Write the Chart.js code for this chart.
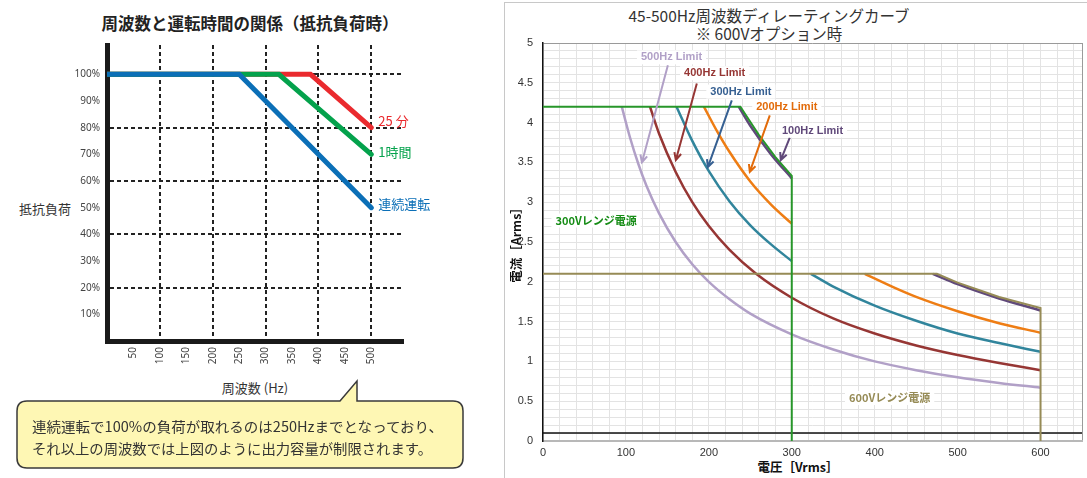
<!DOCTYPE html>
<html>
<head>
<meta charset="utf-8">
<script src="https://cdn.jsdelivr.net/npm/chart.js@4.4.1/dist/chart.umd.min.js"></script>
<style>
  body { margin: 0; width: 1087px; height: 478px; overflow: hidden; background: #fff; position: relative;
         font-family: "Noto Sans CJK JP", "Noto Sans", sans-serif; color: #333; }
  .abs { position: absolute; white-space: nowrap; }
  #leftTitle { left: 0; width: 500px; top: 12px; line-height: 22px; text-align: center; font-size: 16.5px; font-weight: bold; color: #222; }
  #leftYTitle { left: 19px; top: 200px; font-size: 13px; line-height: 18px; color: #333; }
  #leftXTitle { left: 155px; width: 200px; text-align: center; top: 379px; font-size: 13px; line-height: 18px; color: #333; }
  #leftChart { position: absolute; left: 0; top: 0; }
  #callout { position: absolute; left: 0; top: 370px; }
  #rightBox { position: absolute; left: 504px; top: 2px; width: 583px; height: 476px; border-left: 1px solid #c8c8c8; border-top: 1px solid #c8c8c8; }
  #rightChart { position: absolute; left: 505px; top: 3px; }
  #rightTitle { left: 569px; width: 400px; top: 6px; text-align: center; font-size: 15.5px; line-height: 18px; color: #333; }
  #rightXTitle { left: 698px; width: 200px; text-align: center; top: 458px; font-size: 12.5px; line-height: 18px; font-weight: bold; color: #111; }
</style>
</head>
<body>
<div id="rightBox"></div>
<div class="abs" id="leftTitle">周波数と運転時間の関係（抵抗負荷時）</div>
<div class="abs" id="leftYTitle">抵抗負荷</div>
<div class="abs" id="leftXTitle">周波数 (Hz)</div>
<canvas id="leftChart" width="480" height="400"></canvas>
<svg id="callout" width="480" height="108">
  <path d="M 27 31 L 340 31 L 357 11 L 357 31 L 453 31 Q 463 31 463 41 L 463 88 Q 463 98 453 98 L 27 98 Q 17 98 17 88 L 17 41 Q 17 31 27 31 Z"
        fill="#fef7b4" stroke="#3a3a3a" stroke-width="1.5"/>
  <text x="32" y="62" font-size="14" fill="#333" textLength="411" lengthAdjust="spacingAndGlyphs">連続運転で100%の負荷が取れるのは250Hzまでとなっており、</text>
  <text x="32" y="83.5" font-size="14" fill="#333" textLength="400" lengthAdjust="spacingAndGlyphs">それ以上の周波数では上図のように出力容量が制限されます。</text>
</svg>
<div class="abs" id="rightTitle">45-500Hz周波数ディレーティングカーブ<br>※ 600Vオプション時</div>
<div class="abs" id="rightXTitle">電圧［Vrms］</div>
<canvas id="rightChart" width="582" height="475"></canvas>

<script>
  // ---- left chart: frequency vs load ----
  var leftXTicks = [50, 100, 150, 200, 250, 300, 350, 400, 450, 500];
  var leftYTicks = [10, 20, 30, 40, 50, 60, 70, 80, 90, 100];

  var contFreq = [0, 250, 500];
  var contLoad = [100, 100, 50];
  var hourFreq = [0, 325, 500];
  var hourLoad = [100, 100, 70];
  var min25Freq = [0, 385, 500];
  var min25Load = [100, 100, 80];

  // ---- right chart: derating curves ----
  var rightXTicks = [0, 100, 200, 300, 400, 500, 600];
  var rightYTicks = [0, 0.5, 1, 1.5, 2, 2.5, 3, 3.5, 4, 4.5, 5];

  var range300V = [0, 238, 260, 280, 300, 300];
  var range300I = [4.2, 4.2, 3.85, 3.57, 3.33, 0];
  var range600V = [0, 475, 500, 550, 600, 600];
  var range600I = [2.1, 2.1, 1.99, 1.81, 1.67, 0];

  var lim100aV = [236, 250, 275, 300];
  var lim100aI = [4.2, 3.96, 3.6, 3.3];
  var lim100bV = [470, 500, 550, 600];
  var lim100bI = [2.1, 1.97, 1.79, 1.64];
  var lim200aV = [194, 210, 225, 250, 275, 300];
  var lim200aI = [4.2, 3.89, 3.63, 3.26, 2.97, 2.73];
  var lim200bV = [388, 425, 450, 500, 550, 600];
  var lim200bI = [2.1, 1.92, 1.81, 1.63, 1.48, 1.36];
  var lim300aV = [161, 180, 200, 225, 250, 275, 300];
  var lim300aI = [4.2, 3.77, 3.39, 3.01, 2.71, 2.47, 2.26];
  var lim300bV = [323, 350, 400, 450, 500, 550, 600];
  var lim300bI = [2.1, 1.94, 1.7, 1.51, 1.35, 1.23, 1.12];
  var lim400V = [129, 140, 160, 180, 200, 225, 257, 300, 350, 400, 450, 500, 550, 600];
  var lim400I = [4.2, 3.86, 3.38, 3.0, 2.7, 2.4, 2.1, 1.8, 1.54, 1.35, 1.2, 1.08, 0.98, 0.89];
  var lim500V = [95, 105, 115, 125, 140, 160, 180, 200, 225, 250, 300, 350, 400, 450, 500, 550, 600];
  var lim500I = [4.2, 3.81, 3.48, 3.2, 2.86, 2.5, 2.22, 2.0, 1.78, 1.6, 1.34, 1.15, 1.0, 0.89, 0.8, 0.73, 0.67];
  var baseV = [0, 650];
  var baseI = [0.1, 0.1];

  function pts(xs, ys) {
    return xs.map(function (v, k) { return { x: v, y: ys[k] }; });
  }

  Chart.defaults.font.family = '"Noto Sans CJK JP", "Noto Sans", sans-serif';

  /* labels at the end of each line (left chart) */
  var tagShift = [-4, -2, -7];
  var lineTags = {
    id: 'lineTags',
    afterDatasetsDraw: function (chart) {
      var ctx = chart.ctx, x = chart.scales.x, y = chart.scales.y;
      ctx.save();
      ctx.font = '13px "Noto Sans CJK JP"';
      ctx.textBaseline = 'middle';
      ctx.textAlign = 'left';
      chart.data.datasets.forEach(function (ds, i) {
        var last = ds.data[ds.data.length - 1];
        ctx.fillStyle = ds.borderColor;
        ctx.fillText(ds.label, x.getPixelForValue(last.x) + 7, y.getPixelForValue(last.y) + tagShift[i]);
      });
      ctx.restore();
    }
  };

  var dashGrid = '#222';
  new Chart(document.getElementById('leftChart'), {
    type: 'line',
    data: {
      datasets: [
        { label: '連続運転', data: pts(contFreq, contLoad), borderColor: '#0b6fb7' },
        { label: '1時間', data: pts(hourFreq, hourLoad), borderColor: '#04a24c' },
        { label: '25 分', data: pts(min25Freq, min25Load), borderColor: '#ea2a2e' }
      ]
    },
    options: {
      responsive: false,
      devicePixelRatio: 1,
      animation: false,
      events: [],
      layout: { padding: { left: 0, top: 45, right: 77, bottom: 0 } },
      elements: {
        line: { borderWidth: 5, tension: 0, borderCapStyle: 'round', borderJoinStyle: 'miter' },
        point: { radius: 0 }
      },
      plugins: { legend: { display: false }, tooltip: { enabled: false } },
      scales: {
        x: {
          type: 'linear', min: 0, max: 560,
          afterBuildTicks: function (s) { s.ticks = leftXTicks.map(function (v) { return { value: v }; }); },
          afterFit: function (s) { s.height = 59; },
          grid: {
            drawTicks: false, lineWidth: 2,
            color: function (c) { return c.tick && c.tick.value % 100 === 0 ? dashGrid : 'rgba(0,0,0,0)'; }
          },
          border: { display: true, color: '#1a1a1a', width: 5, dash: [4, 3] },
          ticks: { autoSkip: false, minRotation: 90, maxRotation: 90, padding: 6, color: '#444', font: { size: 10, family: '"Noto Sans", sans-serif' } }
        },
        y: {
          min: 0, max: 111,
          afterBuildTicks: function (s) { s.ticks = leftYTicks.map(function (v) { return { value: v }; }); },
          afterFit: function (s) { s.width = 107; },
          grid: {
            drawTicks: false, lineWidth: 2,
            color: function (c) { return c.tick && c.tick.value % 20 === 0 ? dashGrid : 'rgba(0,0,0,0)'; }
          },
          border: { display: true, color: '#1a1a1a', width: 5, dash: [4, 3] },
          ticks: { autoSkip: false, padding: 7, color: '#444', font: { size: 10, family: '"Noto Sans", sans-serif' },
                   callback: function (v) { return v + '%'; } }
        }
      }
    },
    plugins: [lineTags]
  });

  /* notes and arrows on the derating chart, in data units */
  var limitNotes = [
    { text: '500Hz Limit', color: '#b1a0c7', at: [155, 4.82], from: [150.6, 4.72], to: [119.3, 3.5] },
    { text: '400Hz Limit', color: '#963634', at: [207, 4.62], from: [185.5, 4.49], to: [160.2, 3.53] },
    { text: '300Hz Limit', color: '#366092', at: [238.6, 4.39], from: [227.7, 4.28], to: [198.8, 3.44] },
    { text: '200Hz Limit', color: '#e26b0a', at: [294, 4.2], from: [273.5, 4.09], to: [249.4, 3.38] },
    { text: '100Hz Limit', color: '#60497a', at: [325, 3.9], from: [297.6, 3.81], to: [286.7, 3.53] }
  ];
  var rangeNotes = [
    { text: '300Vレンジ電源', color: '#168c16', at: [64, 2.77] },
    { text: '600Vレンジ電源', color: '#968b56', at: [418, 0.54] }
  ];

  var notes = {
    id: 'notes',
    afterDatasetsDraw: function (chart) {
      var ctx = chart.ctx, x = chart.scales.x, y = chart.scales.y;
      ctx.save();
      ctx.lineWidth = 2;
      limitNotes.forEach(function (n) {
        var x1 = x.getPixelForValue(n.from[0]), y1 = y.getPixelForValue(n.from[1]);
        var x2 = x.getPixelForValue(n.to[0]), y2 = y.getPixelForValue(n.to[1]);
        var a = Math.atan2(y2 - y1, x2 - x1), h = 8;
        ctx.strokeStyle = n.color;
        ctx.beginPath();
        ctx.moveTo(x1, y1); ctx.lineTo(x2, y2);
        ctx.moveTo(x2 - h * Math.cos(a - 0.45), y2 - h * Math.sin(a - 0.45));
        ctx.lineTo(x2, y2);
        ctx.lineTo(x2 - h * Math.cos(a + 0.45), y2 - h * Math.sin(a + 0.45));
        ctx.stroke();
      });
      ctx.textAlign = 'center';
      ctx.textBaseline = 'middle';
      limitNotes.concat(rangeNotes).forEach(function (n) {
        var isRange = n.text.indexOf('レンジ') >= 0;
        ctx.font = isRange ? 'bold 11px "Noto Sans CJK JP"' : 'bold 11px "Liberation Sans", sans-serif';
        var px = x.getPixelForValue(n.at[0]), py = y.getPixelForValue(n.at[1]);
        var w = ctx.measureText(n.text).width;
        ctx.fillStyle = '#fff';
        ctx.fillRect(px - w / 2 - 4, py - 7, w + 8, 14);
        ctx.fillStyle = n.color;
        ctx.fillText(n.text, px, py);
      });
      ctx.restore();
    }
  };

  function curve(label, xs, ys, color, smooth, width) {
    return {
      label: label, data: pts(xs, ys), borderColor: color, borderWidth: width || 2.5,
      pointRadius: 0, fill: false, tension: 0,
      cubicInterpolationMode: smooth ? 'monotone' : 'default'
    };
  }

  new Chart(document.getElementById('rightChart'), {
    type: 'line',
    data: {
      datasets: [
        curve('300Vレンジ電源', range300V, range300I, '#27962a', false, 2),
        curve('600Vレンジ電源', range600V, range600I, '#968b56', false, 2),
        curve('100Hz Limit', lim100aV, lim100aI, '#60497a', true),
        curve('100Hz Limit', lim100bV, lim100bI, '#60497a', true),
        curve('200Hz Limit', lim200aV, lim200aI, '#ee7d14', true),
        curve('200Hz Limit', lim200bV, lim200bI, '#ee7d14', true),
        curve('300Hz Limit', lim300aV, lim300aI, '#31859c', true),
        curve('300Hz Limit', lim300bV, lim300bI, '#31859c', true),
        curve('400Hz Limit', lim400V, lim400I, '#963634', true),
        curve('500Hz Limit', lim500V, lim500I, '#b1a0c7', true),
        curve('base', baseV, baseI, '#111', false, 1.5)
      ]
    },
    options: {
      responsive: false,
      devicePixelRatio: 1,
      animation: false,
      events: [],
      layout: { padding: { left: 0, top: 40, right: 4, bottom: 0 } },
      plugins: { legend: { display: false }, tooltip: { enabled: false } },
      scales: {
        x: {
          type: 'linear', min: 0, max: 650,
          afterBuildTicks: function (s) {
            var t = [];
            for (var v = 0; v < 650; v += 20) t.push({ value: v });
            t.push({ value: 650 });
            s.ticks = t;
          },
          afterFit: function (s) { s.height = 37; },
          grid: {
            drawTicks: false, lineWidth: 1,
            color: function (c) { return c.tick && c.tick.value >= 650 ? '#9a9a9a' : '#e3e3e3'; }
          },
          border: { display: true, color: '#b8b8b8', width: 2 },
          ticks: {
            autoSkip: false, minRotation: 0, maxRotation: 0, padding: 5, color: '#333',
            font: { size: 11, family: '"Liberation Sans", sans-serif' },
            callback: function (v) { return rightXTicks.indexOf(v) >= 0 ? String(v) : ''; }
          }
        },
        y: {
          min: 0, max: 5,
          afterBuildTicks: function (s) {
            var t = [];
            for (var k = 0; k <= 50; k++) t.push({ value: k / 10 });
            s.ticks = t;
          },
          afterFit: function (s) { s.width = 38; },
          title: { display: true, text: '電流［Arms］', color: '#111', font: { size: 12.5, weight: 'bold' }, padding: { top: 4, bottom: 0 } },
          grid: {
            drawTicks: false, lineWidth: 1,
            color: function (c) { return c.tick && c.tick.value >= 5 ? '#9a9a9a' : '#e3e3e3'; }
          },
          border: { display: true, color: '#111', width: 1.5 },
          ticks: {
            autoSkip: false, padding: 10, color: '#333',
            font: { size: 11, family: '"Liberation Sans", sans-serif' },
            callback: function (v) { return rightYTicks.indexOf(v) >= 0 ? String(v) : ''; }
          }
        }
      }
    },
    plugins: [notes]
  });
</script>
</body>
</html>
